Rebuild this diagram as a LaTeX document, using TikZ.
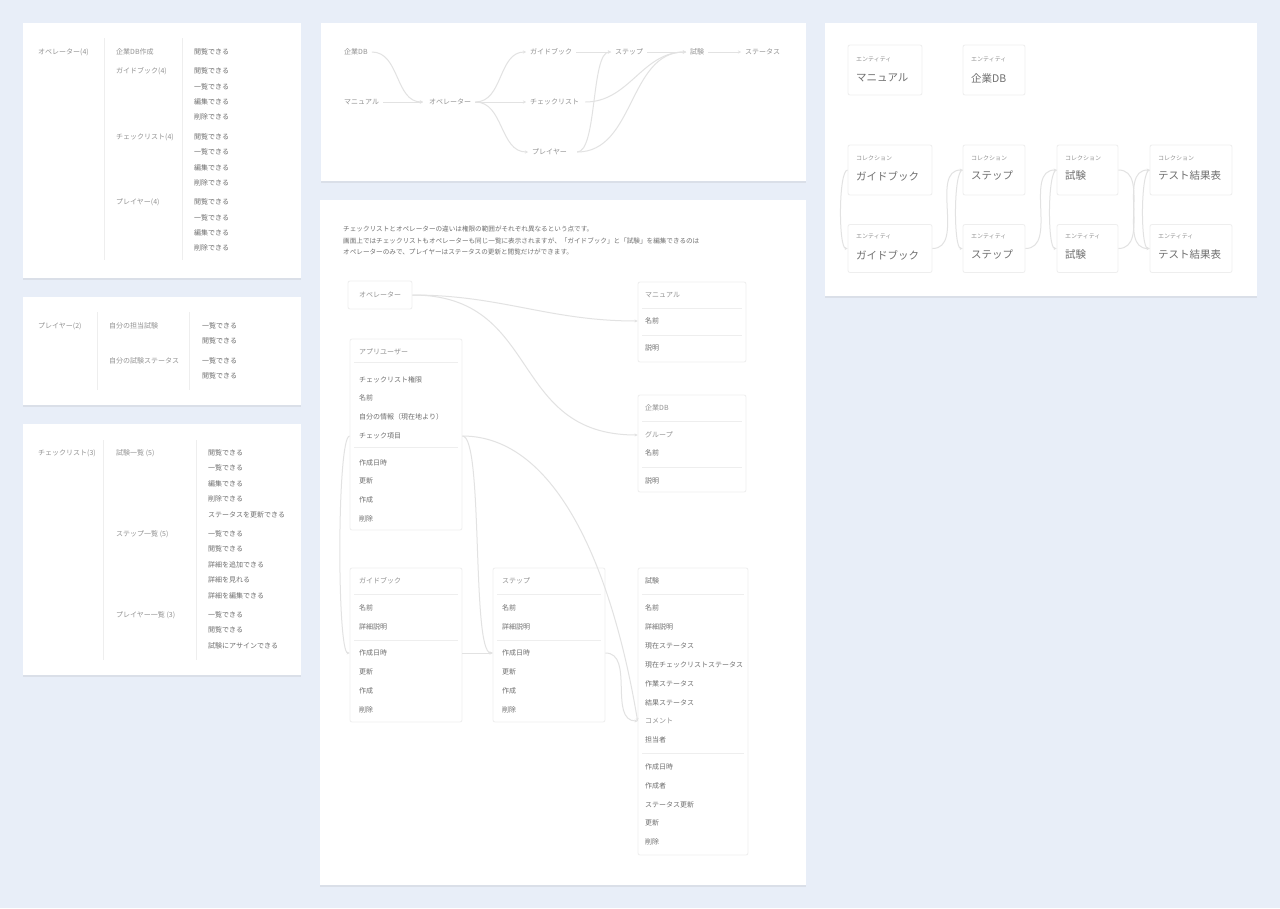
\documentclass[tikz,border=0pt]{standalone}
\usepackage{fontspec}
\setmainfont{Noto Sans CJK JP}
\usetikzlibrary{arrows.meta,shadows}
\definecolor{pagebg}{HTML}{E8EEF8}
\definecolor{ink}{HTML}{929292}
\definecolor{inkdark}{HTML}{6F6F6F}
\definecolor{wire}{HTML}{E2E2E2}
\definecolor{rim}{HTML}{EEEEEE}
\begin{document}
\begin{tikzpicture}[x=1pt,y=-1pt,
    panel/.style={fill=white, drop shadow={opacity=0.13, shadow xshift=0pt, shadow yshift=-1.5pt}},
    txt/.style={anchor=west, inner sep=0pt, font=\fontsize{7}{8}\selectfont, text=ink},
    dark/.style={txt, text=inkdark},
    small/.style={txt, font=\fontsize{6}{7}\selectfont},
    big/.style={txt, font=\fontsize{10.5}{12}\selectfont, text=inkdark},
    rule/.style={draw=rim, line width=0.8pt},
    wirel/.style={draw=wire, line width=1pt, -{Stealth[length=3pt,width=3pt]}},
    tbl/.style={draw=rim, line width=0.8pt, rounded corners=2pt, inner sep=0pt},
    card/.style={tbl}]
    \useasboundingbox (0,0) rectangle (1280,908);
    \fill[pagebg] (0,0) rectangle (1280,908);
    \path[panel] (23,23) rectangle (301,278);
    \path[panel] (23,297) rectangle (301,405);
    \path[panel] (23,424) rectangle (301,675);
    \path[panel] (321,23) rectangle (806,181);
    \path[panel] (320,200) rectangle (806,885);
    \path[panel] (825,23) rectangle (1257,296);

    \draw[rule] (104,38) -- (104,260);
    \draw[rule] (182,38) -- (182,260);
    \node[txt] (opcount) at (38,52) {オペレーター(4)};
    \node[txt] (dbmake) at (116,52) {企業DB作成};
    \node[txt] (guidecount) at (116,71) {ガイドブック(4)};
    \node[txt] (checkcount) at (116,137) {チェックリスト(4)};
    \node[txt] (playercount) at (116,202) {プレイヤー(4)};
    \node[dark] (dbview) at (194,52) {閲覧できる};
    \node[dark] (gview) at (194,71) {閲覧できる};
    \node[dark] (glist) at (194,87) {一覧できる};
    \node[dark] (gedit) at (194,102) {編集できる};
    \node[dark] (gdel) at (194,117) {削除できる};
    \node[dark] (cview) at (194,137) {閲覧できる};
    \node[dark] (clist) at (194,152) {一覧できる};
    \node[dark] (cedit) at (194,168) {編集できる};
    \node[dark] (cdel) at (194,183) {削除できる};
    \node[dark] (pview) at (194,202) {閲覧できる};
    \node[dark] (plist) at (194,218) {一覧できる};
    \node[dark] (pedit) at (194,233) {編集できる};
    \node[dark] (pdel) at (194,248) {削除できる};

    \draw[rule] (97,312) -- (97,390);
    \draw[rule] (189,312) -- (189,390);
    \node[txt] (plcount) at (38,326) {プレイヤー(2)};
    \node[txt] (myexam) at (109,326) {自分の担当試験};
    \node[txt] (mystatus) at (109,361) {自分の試験ステータス};
    \node[dark] (mylist) at (202,326) {一覧できる};
    \node[dark] (myview) at (202,341) {閲覧できる};
    \node[dark] (stlist) at (202,361) {一覧できる};
    \node[dark] (stview) at (202,376) {閲覧できる};

    \draw[rule] (103,440) -- (103,660);
    \draw[rule] (196,440) -- (196,660);
    \node[txt] (chcount) at (38,453) {チェックリスト(3)};
    \node[txt] (examcount) at (116,453) {試験一覧 (5)};
    \node[txt] (stepcount) at (116,534) {ステップ一覧 (5)};
    \node[txt] (plycount) at (116,615) {プレイヤー一覧 (3)};
    \node[dark] (eview) at (208,453) {閲覧できる};
    \node[dark] (elist) at (208,468) {一覧できる};
    \node[dark] (eedit) at (208,484) {編集できる};
    \node[dark] (edel) at (208,499) {削除できる};
    \node[dark] (estat) at (208,515) {ステータスを更新できる};
    \node[dark] (slist) at (208,534) {一覧できる};
    \node[dark] (sview) at (208,549) {閲覧できる};
    \node[dark] (sadd) at (208,565) {詳細を追加できる};
    \node[dark] (ssee) at (208,580) {詳細を見れる};
    \node[dark] (sedit) at (208,596) {詳細を編集できる};
    \node[dark] (ylist) at (208,615) {一覧できる};
    \node[dark] (yview) at (208,630) {閲覧できる};
    \node[dark] (yassign) at (208,646) {試験にアサインできる};

    \node[txt] (db) at (344,52) {企業DB};
    \node[txt] (man) at (344,102) {マニュアル};
    \node[txt] (op) at (429,102) {オペレーター};
    \node[txt] (guide) at (530,52) {ガイドブック};
    \node[txt] (check) at (530,102) {チェックリスト};
    \node[txt] (player) at (532,152) {プレイヤー};
    \node[txt] (step) at (615,52) {ステップ};
    \node[txt] (exam) at (690,52) {試験};
    \node[txt] (status) at (745,52) {ステータス};
    \draw[wirel] ([xshift=4pt]db.east) to[out=0,in=180] ([xshift=-6pt]op.west);
    \draw[wirel] ([xshift=4pt]man.east) -- ([xshift=-6pt]op.west);
    \draw[wirel] ([xshift=4pt]op.east) to[out=0,in=180] ([xshift=-4pt]guide.west);
    \draw[wirel] ([xshift=4pt]op.east) -- ([xshift=-4pt]check.west);
    \draw[wirel] ([xshift=4pt]op.east) to[out=0,in=180] ([xshift=-4pt]player.west);
    \draw[wirel] ([xshift=4pt]guide.east) -- ([xshift=-4pt]step.west);
    \draw[wirel] ([xshift=6pt]check.east) to[out=0,in=180] ([xshift=-4pt]exam.west);
    \draw[wirel] ([xshift=10pt]player.east) .. controls +(20,0) and +(-20,0) .. ([xshift=-4pt]step.west);
    \draw[wirel] ([xshift=10pt]player.east) to[out=0,in=180] ([xshift=-4pt]exam.west);
    \draw[wirel] ([xshift=4pt]step.east) -- ([xshift=-4pt]exam.west);
    \draw[wirel] ([xshift=4pt]exam.east) -- ([xshift=-4pt]status.west);

    \node[txt, font=\fontsize{6.6}{8}\selectfont, text=inkdark] (desc1) at (343,229) {チェックリストとオペレーターの違いは権限の範囲がそれぞれ異なるという点です。};
    \node[txt, font=\fontsize{6.6}{8}\selectfont, text=inkdark] (desc2) at (343,241) {画面上ではチェックリストもオペレーターも同じ一覧に表示されますが、「ガイドブック」と「試験」を編集できるのは};
    \node[txt, font=\fontsize{6.6}{8}\selectfont, text=inkdark] (desc3) at (343,252) {オペレーターのみで、プレイヤーはステータスの更新と閲覧だけができます。};

    \node[tbl, minimum width=64pt, minimum height=28pt] (opbox) at (380,295) {};
    \node[txt] (optitle) at (359,295) {オペレーター};

    \node[tbl, minimum width=112pt, minimum height=191pt] (ubox) at (406,434.5) {};
    \draw[rule] (354,362) -- (458,362);
    \draw[rule] (354,447) -- (458,447);
    \node[txt] (utitle) at (359,352) {アプリユーザー};
    \node[dark] (u1) at (359,380) {チェックリスト権限};
    \node[dark] (u2) at (359,398) {名前};
    \node[dark] (u3) at (359,417) {自分の情報（現在地より）};
    \node[dark] (u4) at (359,436) {チェック項目};
    \node[dark] (u5) at (359,463) {作成日時};
    \node[dark] (u6) at (359,481) {更新};
    \node[dark] (u7) at (359,500) {作成};
    \node[dark] (u8) at (359,519) {削除};

    \node[tbl, minimum width=108pt, minimum height=80pt] (manbox) at (692,322) {};
    \draw[rule] (642,308) -- (742,308);
    \draw[rule] (642,335) -- (742,335);
    \node[txt] (mtitle) at (645,295) {マニュアル};
    \node[dark] (m1) at (645,321) {名前};
    \node[dark] (m2) at (645,348) {説明};

    \node[tbl, minimum width=108pt, minimum height=97pt] (dbbox) at (692,443.5) {};
    \draw[rule] (642,421) -- (742,421);
    \draw[rule] (642,467) -- (742,467);
    \node[txt] (dtitle) at (645,408) {企業DB};
    \node[txt] (d1) at (645,435) {グループ};
    \node[dark] (d2) at (645,453) {名前};
    \node[dark] (d3) at (645,481) {説明};

    \node[tbl, minimum width=112pt, minimum height=154pt] (gbox) at (406,645) {};
    \draw[rule] (354,594) -- (458,594);
    \draw[rule] (354,640) -- (458,640);
    \node[txt] (gtitle) at (359,581) {ガイドブック};
    \node[dark] (g1) at (359,608) {名前};
    \node[dark] (g2) at (359,627) {詳細説明};
    \node[dark] (g3) at (359,653) {作成日時};
    \node[dark] (g4) at (359,672) {更新};
    \node[dark] (g5) at (359,691) {作成};
    \node[dark] (g6) at (359,710) {削除};

    \node[tbl, minimum width=112pt, minimum height=154pt] (sbox) at (549,645) {};
    \draw[rule] (497,594) -- (601,594);
    \draw[rule] (497,640) -- (601,640);
    \node[txt] (stitle) at (502,581) {ステップ};
    \node[dark] (s1) at (502,608) {名前};
    \node[dark] (s2) at (502,627) {詳細説明};
    \node[dark] (s3) at (502,653) {作成日時};
    \node[dark] (s4) at (502,672) {更新};
    \node[dark] (s5) at (502,691) {作成};
    \node[dark] (s6) at (502,710) {削除};

    \node[tbl, minimum width=110pt, minimum height=287pt] (ebox) at (693,711.5) {};
    \draw[rule] (642,594) -- (744,594);
    \draw[rule] (642,753) -- (744,753);
    \node[dark] (etitle) at (645,581) {試験};
    \node[dark] (e1) at (645,608) {名前};
    \node[dark] (e2) at (645,627) {詳細説明};
    \node[dark] (e3) at (645,646) {現在ステータス};
    \node[dark] (e4) at (645,665) {現在チェックリストステータス};
    \node[dark] (e5) at (645,684) {作業ステータス};
    \node[dark] (e6) at (645,703) {結果ステータス};
    \node[txt] (e7) at (645,721) {コメント};
    \node[dark] (e8) at (645,740) {担当者};
    \node[dark] (e9) at (645,767) {作成日時};
    \node[dark] (e10) at (645,786) {作成者};
    \node[dark] (e11) at (645,805) {ステータス更新};
    \node[dark] (e12) at (645,823) {更新};
    \node[dark] (e13) at (645,842) {削除};

    \draw[wirel] (opbox.east) to[out=0,in=180] (m1 -| manbox.west);
    \draw[wirel] (opbox.east) .. controls +(130,0) and +(-130,0) .. (d1 -| dbbox.west);
    \draw[wirel] (u4 -| ubox.west) to[out=180,in=180,looseness=0.15] (g3 -| gbox.west);
    \draw[wirel] (u4 -| ubox.east) to[out=0,in=180,looseness=0.25] (s3 -| sbox.west);
    \draw[wirel] (g3 -| gbox.east) -- (s3 -| sbox.west);
    \draw[wirel] (u4 -| ubox.east) .. controls +(95,0) and +(-25,-150) .. (e7 -| ebox.west);
    \draw[wirel] (s3 -| sbox.east) to[out=0,in=180] (e7 -| ebox.west);

    \node[card, minimum width=74pt, minimum height=50pt] (k11) at (885,70) {};
    \node[card, minimum width=62pt, minimum height=50pt] (k12) at (994,70) {};
    \node[small] (k11a) at (856,60) {エンティティ};
    \node[big] (k11b) at (856,78) {マニュアル};
    \node[small] (k12a) at (971,60) {エンティティ};
    \node[big] (k12b) at (971,78) {企業DB};

    \node[card, minimum width=84pt, minimum height=50pt] (k21) at (890,170) {};
    \node[card, minimum width=62pt, minimum height=50pt] (k22) at (994,170) {};
    \node[card, minimum width=61pt, minimum height=50pt] (k23) at (1087.5,170) {};
    \node[card, minimum width=82pt, minimum height=50pt] (k24) at (1191,170) {};
    \node[small] (k21a) at (856,158) {コレクション};
    \node[big] (k21b) at (856,176) {ガイドブック};
    \node[small] (k22a) at (971,158) {コレクション};
    \node[big] (k22b) at (971,176) {ステップ};
    \node[small] (k23a) at (1065,158) {コレクション};
    \node[big] (k23b) at (1065,176) {試験};
    \node[small] (k24a) at (1158,158) {コレクション};
    \node[big] (k24b) at (1158,176) {テスト結果表};

    \node[card, minimum width=84pt, minimum height=48pt] (k31) at (890,248.5) {};
    \node[card, minimum width=62pt, minimum height=48pt] (k32) at (994,248.5) {};
    \node[card, minimum width=61pt, minimum height=48pt] (k33) at (1087.5,248.5) {};
    \node[card, minimum width=82pt, minimum height=48pt] (k34) at (1191,248.5) {};
    \node[small] (k31a) at (856,237) {エンティティ};
    \node[big] (k31b) at (856,255) {ガイドブック};
    \node[small] (k32a) at (971,237) {エンティティ};
    \node[big] (k32b) at (971,255) {ステップ};
    \node[small] (k33a) at (1065,237) {エンティティ};
    \node[big] (k33b) at (1065,255) {試験};
    \node[small] (k34a) at (1158,237) {エンティティ};
    \node[big] (k34b) at (1158,255) {テスト結果表};

    \draw[wirel] (k21.west) to[out=180,in=180,looseness=0.3] (k31.west);
    \draw[wirel] (k31.east) to[out=0,in=180] (k22.west);
    \draw[wirel] (k22.west) to[out=180,in=180,looseness=0.3] (k32.west);
    \draw[wirel] (k32.east) to[out=0,in=180] (k23.west);
    \draw[wirel] (k23.west) to[out=180,in=180,looseness=0.3] (k33.west);
    \draw[wirel] (k33.east) to[out=0,in=180] (k24.west);
    \draw[wirel] (k23.east) to[out=0,in=180] (k34.west);
    \draw[wirel] (k24.west) to[out=180,in=180,looseness=0.3] (k34.west);
\end{tikzpicture}
\end{document}
